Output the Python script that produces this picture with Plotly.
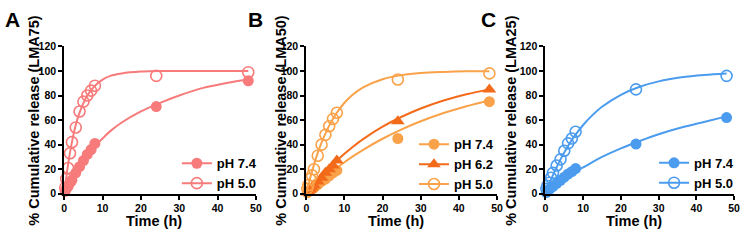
import plotly.graph_objects as go

# ---------------- data ----------------
time_h = [0.25, 0.5, 1, 1.5, 2, 3, 4, 5, 6, 7, 8, 24, 48]

A_ph74 = [2, 4, 6, 9, 11, 17, 22, 27, 32, 36, 41, 71, 92]
A_ph50 = [5, 12, 21, 33, 42, 54, 67, 75, 80, 84, 88, 96, 99]

B_ph74 = [1, 1.5, 3, 4, 5, 7.5, 10, 12, 14.5, 17, 19, 45, 75]
B_ph62 = [1, 2, 3.5, 5, 7, 10, 13, 17, 20, 23, 27, 59, 85]
B_ph50 = [4, 7, 12, 15, 20, 31, 40, 48, 55, 61, 66, 93, 98]

C_ph74 = [1, 2, 3.5, 5, 6, 8.5, 11, 13.5, 16, 18, 20.5, 40.5, 62]
C_ph50 = [4, 6.5, 9, 13, 17, 23, 28, 35, 41, 45, 50.5, 85, 96]

# fitted curves
fit_t = [0, 1, 2, 3, 4, 6, 8, 10, 12, 15, 20, 25, 30, 36, 42, 48]
A_fit74 = [0, 5.5, 11, 16, 21, 31, 39, 45, 51, 58, 67, 74, 80, 86, 90, 93]
A_fit50 = [0, 24, 42, 56, 66, 80, 88, 93, 96, 98, 99.5, 100, 100, 100, 100, 100]
B_fit74 = [0, 2.9, 5.8, 8.5, 11.2, 16.3, 21.1, 25.7, 30, 36, 44.8, 52.4, 59, 65.7, 71.3, 76]
B_fit62 = [0, 3.9, 7.6, 11.2, 14.6, 21.1, 27.1, 32.6, 37.7, 44.7, 54.6, 62.7, 69.4, 75.9, 81, 85]
B_fit50 = [0, 12.6, 23.7, 33.3, 41.7, 55.5, 66, 74.1, 80.2, 86.8, 93.3, 96.6, 98.3, 99.2, 99.7, 99.8]
C_fit74 = [0, 2.5, 5, 7.3, 9.5, 14, 18, 21.5, 25, 30, 37, 43, 48.5, 54, 58.5, 63]
C_fit50 = [0, 7.9, 15.2, 21.8, 28, 38.9, 48.1, 56, 62.6, 70.8, 80.6, 87.1, 91.5, 94.8, 96.8, 98]

x_ticks = [0, 10, 20, 30, 40, 50]
y_ticks = [0, 20, 40, 60, 80, 100, 120]
panel_labels = ["A", "B", "C"]
y_titles = ["% Cumulative release (LMA75)", "% Cumulative release (LMA50)", "% Cumulative release (LMA25)"]
x_title = "Time (h)"

# ---------------- style ----------------
W, H = 750, 243
FONT = "Arial, Liberation Sans, sans-serif"
col_A = "#F77B7B"
col_B = "#F9A24A"
col_B62 = "#F36A1A"
col_C = "#4B9BEE"

def fx(px):
    return px / W

def fy(py):
    return 1 - py / H

panels = [
    dict(xd=(62, 256), legend="legend", lx=262, ly=176,
         series=[("pH 7.4", A_ph74, A_fit74, col_A, "circle"),
                 ("pH 5.0", A_ph50, A_fit50, col_A, "circle-open")]),
    dict(xd=(307, 500), legend="legend2", lx=502, ly=166.5,
         series=[("pH 7.4", B_ph74, B_fit74, col_B, "circle"),
                 ("pH 6.2", B_ph62, B_fit62, col_B62, "triangle-up"),
                 ("pH 5.0", B_ph50, B_fit50, col_B, "circle-open")]),
    dict(xd=(549, 740), legend="legend3", lx=745, ly=175.5,
         series=[("pH 7.4", C_ph74, C_fit74, col_C, "circle"),
                 ("pH 5.0", C_ph50, C_fit50, col_C, "circle-open")]),
]

fig = go.Figure()
y_top, y_bot = 42.5, 197.5

for i, p in enumerate(panels):
    xa = "x" if i == 0 else f"x{i+1}"
    ya = "y" if i == 0 else f"y{i+1}"
    for name, pts, fit, col, sym in p["series"]:
        msize = 12 if sym == "triangle-up" else 11
        mk = dict(color=col, size=msize, symbol=sym, line=dict(color=col, width=1.6 if "open" in sym else 0))
        fig.add_trace(go.Scatter(x=fit_t, y=fit, mode="lines", line=dict(color=col, width=2, shape="spline"),
                                 xaxis=xa, yaxis=ya, showlegend=False, hoverinfo="skip"))
        fig.add_trace(go.Scatter(x=time_h, y=pts, mode="markers", marker=mk, cliponaxis=False,
                                 xaxis=xa, yaxis=ya, showlegend=False))
        fig.add_trace(go.Scatter(x=[None], y=[None], mode="lines+markers", name=name, marker=mk,
                                 line=dict(color=col, width=2), xaxis=xa, yaxis=ya,
                                 legend=p["legend"]))
    axis_common = dict(showline=True, linecolor="black", linewidth=2, ticks="outside", ticklen=4,
                       tickwidth=2, tickcolor="black", showgrid=False, zeroline=False,
                       tickfont=dict(family=FONT, size=10.5, color="black", weight="bold"))
    fig.layout[f"xaxis{'' if i == 0 else i+1}"] = dict(
        domain=[fx(p["xd"][0]), fx(p["xd"][1])], anchor=ya, range=[0, 50], tickvals=x_ticks, **axis_common)
    fig.layout[f"yaxis{'' if i == 0 else i+1}"] = dict(
        domain=[fy(y_bot), fy(y_top)], anchor=xa, range=[0, 120], tickvals=y_ticks, **axis_common)
    fig.layout[p["legend"]] = dict(
        x=fx(p["lx"]), y=fy(p["ly"]), xanchor="right", yanchor="middle", bgcolor="rgba(0,0,0,0)",
        font=dict(family=FONT, size=13, color="black", weight="bold"), itemwidth=30, tracegroupgap=0)

ann = []
label_x = [10, 256, 491]
ytitle_x = [31, 281, 514]
for i in range(3):
    ann.append(dict(text=panel_labels[i], x=fx(label_x[i]), y=fy(14.5), xref="paper", yref="paper",
                    showarrow=False, xanchor="center", yanchor="middle",
                    font=dict(family=FONT, size=21, color="black", weight="bold")))
    ann.append(dict(text=y_titles[i], x=fx(ytitle_x[i]), y=fy(121), xref="paper", yref="paper",
                    showarrow=False, textangle=-90, xanchor="center", yanchor="middle",
                    font=dict(family=FONT, size=14.5, color="black", weight="bold")))
    ann.append(dict(text=x_title, x=23.5, y=fy(226), xref="x" if i == 0 else f"x{i+1}", yref="paper",
                    showarrow=False, xanchor="center", yanchor="middle",
                    font=dict(family=FONT, size=14.5, color="black", weight="bold")))

fig.update_layout(width=W, height=H, margin=dict(l=0, r=0, t=0, b=0),
                  paper_bgcolor="white", plot_bgcolor="white", annotations=ann)

fig.write_html("out.html", config={"displayModeBar": False},
               post_script="document.body.style.margin='0';document.body.style.overflow='hidden';")
